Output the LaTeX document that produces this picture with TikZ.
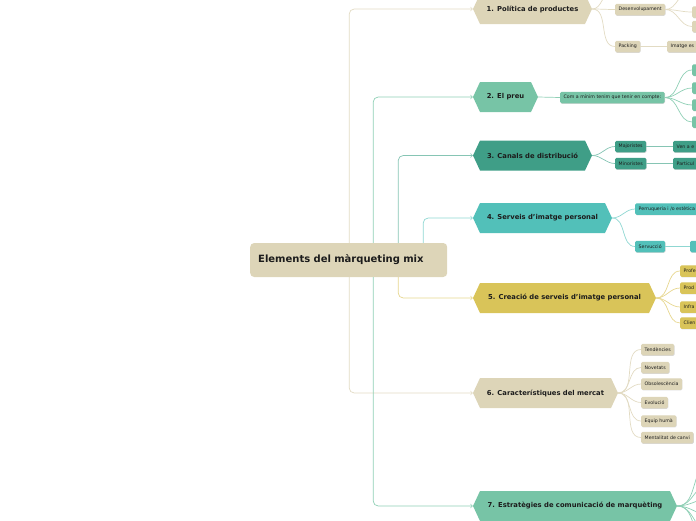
\documentclass[tikz,border=0pt]{standalone}
\usepackage{fontspec}
\setmainfont{DejaVu Sans}
\usetikzlibrary{calc, shapes, shadows, arrows}

\definecolor{beigeFill}{HTML}{DDD5B8}
\definecolor{beigeLine}{HTML}{E2DBC3}
\definecolor{mintFill}{HTML}{77C4A6}
\definecolor{mintLine}{HTML}{8FCFB5}
\definecolor{tealFill}{HTML}{3F9E87}
\definecolor{tealLine}{HTML}{86C5B4}
\definecolor{turqFill}{HTML}{52C0B9}
\definecolor{turqLine}{HTML}{8FD7D2}
\definecolor{yellowFill}{HTML}{D9C459}
\definecolor{yellowLine}{HTML}{E6D68E}
\definecolor{inkText}{HTML}{1C1C1C}

\begin{document}
\begin{tikzpicture}[x=1pt,y=-1pt,
	rootbox/.style={rectangle, rounded corners=4pt, fill=beigeFill, minimum height=34pt,
		inner xsep=8pt, text width=181pt, align=left, anchor=west,
		font=\fontsize{10}{12}\selectfont\bfseries, text=inkText},
	topic/.style={signal, signal to=east and west, signal pointer angle=130,
		minimum height=30pt, inner sep=0pt, font=\fontsize{6.8}{8}\selectfont\bfseries, text=inkText},
	leaf/.style={rectangle, rounded corners=1.5pt, minimum height=11.5pt, inner xsep=3.5pt,
		inner ysep=0pt, anchor=west, font=\fontsize{4.7}{5}\selectfont, text=inkText,
		drop shadow={shadow xshift=0.4pt, shadow yshift=-0.7pt, opacity=0.3}},
	cutleaf/.style={leaf, text width=40pt, align=left},
	trunk/.style={line width=0.7pt, rounded corners=5pt, -to},
	twig/.style={line width=0.7pt}]
	\useasboundingbox (0,0) rectangle (696,520);
	\clip (0,0) rectangle (696,520);
	%Central topic
	\node [rootbox] (root) at (250,260) {Elements del màrqueting mix};
	%Main topics
	\node [topic, fill=beigeFill, minimum width=119pt] (t1) at (532.5,9) {1. Política de productes};
	\node [topic, fill=mintFill, minimum width=65pt] (t2) at (505.5,97) {2. El preu};
	\node [topic, fill=tealFill, minimum width=119pt] (t3) at (532.5,155.5) {3. Canals de distribució};
	\node [topic, fill=turqFill, minimum width=139pt] (t4) at (542.5,218) {4. Serveis d'imatge personal};
	\node [topic, fill=yellowFill, minimum width=183pt] (t5) at (564.5,298) {5. Creació de serveis d'imatge personal};
	\node [topic, fill=beigeFill, minimum width=145pt] (t6) at (545.5,393) {6. Característiques del mercat};
	\node [topic, fill=mintFill, minimum width=204pt] (t7) at (575,506) {7. Estratègies de comunicació de marquèting};
	%Lines from the central topic
	\draw [trunk, beigeLine] ($(root.north)+(0.5,0)$) |- (t1.west);
	\draw [trunk, mintLine] ($(root.north)+(24.5,0)$) |- (t2.west);
	\draw [trunk, tealLine] ($(root.north)+(49.5,0)$) |- (t3.west);
	\draw [trunk, turqLine] ($(root.north)+(74.5,0)$) |- (t4.west);
	\draw [trunk, yellowLine] ($(root.south)+(49.5,0)$) |- (t5.west);
	\draw [trunk, beigeLine] ($(root.south)+(0.5,0)$) |- (t6.west);
	\draw [trunk, mintLine] ($(root.south)+(24.5,0)$) |- (t7.west);
	%Topic 1
	\node [leaf, fill=beigeFill] (devel) at (615,9.5) {Desenvolupament};
	\node [leaf, fill=beigeFill] (pack) at (615,46.5) {Packing};
	\node [leaf, fill=beigeFill, minimum width=20pt] (develA) at (692,12) {};
	\node [leaf, fill=beigeFill, minimum width=20pt] (develB) at (692,26.5) {};
	\node [cutleaf, fill=beigeFill] (packA) at (667,46.5) {Imatge es};
	\coordinate (t1Up) at (612,-8);
	\coordinate (develUp) at (690,-8);
	\foreach \n in {t1Up, devel, pack} {
		\draw [twig, beigeLine] (t1.east) to[out=0, in=180] (\n.west);
	}
	\foreach \n in {develUp, develA, develB} {
		\draw [twig, beigeLine] (devel.east) to[out=0, in=180] (\n.west);
	}
	\draw [twig, beigeLine] (pack) -- (packA);
	%Topic 2
	\node [leaf, fill=mintFill] (minim) at (560,97.5) {Com a mínim tenim que tenir en compte:};
	\draw [twig, mintLine] (t2.east) -- (minim.west);
	\foreach \y [count=\i] in {70,88,105,122} {
		\node [leaf, fill=mintFill, minimum width=20pt] (minim\i) at (692,\y) {};
		\draw [twig, mintLine] (minim.east) to[out=0, in=180] (minim\i.west);
	}
	%Topic 3
	\node [leaf, fill=tealFill] (major) at (615,146.5) {Majoristes};
	\node [leaf, fill=tealFill] (minor) at (615,163.5) {Minoristes};
	\node [cutleaf, fill=tealFill] (majorA) at (673,146.5) {Ven a e};
	\node [cutleaf, fill=tealFill] (minorA) at (673,163.5) {Particul};
	\draw [twig, tealLine] (t3.east) to[out=0, in=180] (major.west);
	\draw [twig, tealLine] (t3.east) to[out=0, in=180] (minor.west);
	\draw [twig, tealLine] (major) -- (majorA);
	\draw [twig, tealLine] (minor) -- (minorA);
	%Topic 4
	\node [leaf, fill=turqFill] (perruq) at (635,209) {Perruqueria i /o estètica};
	\node [leaf, fill=turqFill] (servuc) at (635,246.5) {Servucció};
	\node [leaf, fill=turqFill, minimum width=20pt] (servucA) at (690,246.5) {};
	\draw [twig, turqLine] (t4.east) to[out=0, in=180] (perruq.west);
	\draw [twig, turqLine] (t4.east) to[out=0, in=180] (servuc.west);
	\draw [twig, turqLine] (servuc) -- (servucA);
	%Topic 5
	\foreach \y/\txt [count=\i] in {271/Profe, 288/Prod, 307/Infra, 323/Clien} {
		\node [cutleaf, fill=yellowFill] (crea\i) at (680,\y) {\txt};
		\draw [twig, yellowLine] (t5.east) to[out=0, in=180] (crea\i.west);
	}
	%Topic 6
	\foreach \y/\txt [count=\i] in {349.5/Tendències, 367.5/Novetats, 384/Obsolescència, 402.5/Evolució, 421/Equip humà, 437.5/Mentalitat de canvi} {
		\node [leaf, fill=beigeFill] (merc\i) at (641,\y) {\txt};
		\draw [twig, beigeLine] (t6.east) to[out=0, in=180] (merc\i.west);
	}
	%Topic 7
	\foreach \y [count=\i] in {462,482,498,516,534,552} {
		\coordinate (estr\i) at (712,\y);
		\draw [twig, mintLine] (t7.east) to[out=0, in=180] (estr\i);
	}
\end{tikzpicture}
\end{document}
